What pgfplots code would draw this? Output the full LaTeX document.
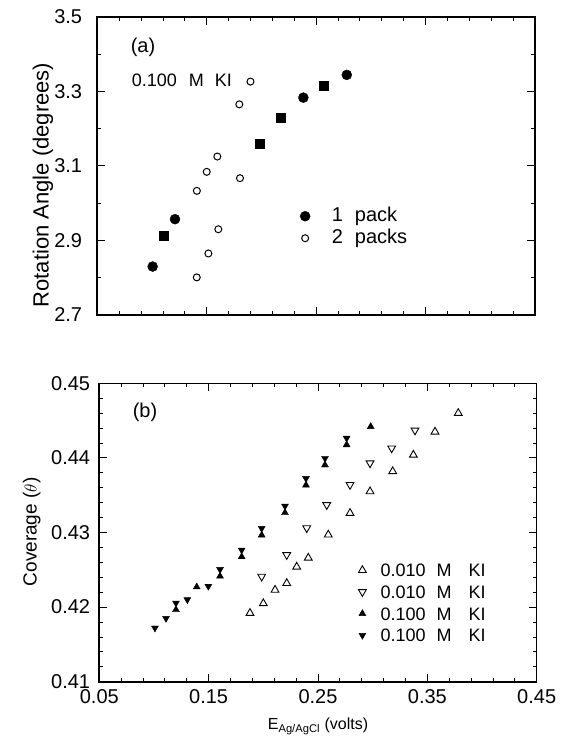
\documentclass[border=0pt]{standalone}
\usepackage{fontspec}
\setmainfont{Liberation Sans}
\usepackage{pgfplots}
\pgfplotsset{compat=1.18}
\newcommand{\tl}{\fontsize{20}{24}\selectfont}
\begin{document}
\begin{tikzpicture}[x=1pt,y=1pt]
\path[use as bounding box] (0,0) rectangle (568,-748);
\pgfplotsset{
  every axis/.append style={
    scale only axis,
    xmin=0.05, xmax=0.45,
    xtick={0.05,0.15,0.25,0.35,0.45},
    minor x tick num=4,
    tick align=inside,
    major tick length=8pt,
    minor tick length=4pt,
    every tick/.style={black, line width=0.9pt},
    axis line style={line width=1.6pt},
    tick label style={font=\tl},
    /pgf/number format/assume math mode=true,
    clip=false,
  },
  mylegimg/.style={legend image code/.code={\draw[mark repeat=2,mark phase=2,##1] plot coordinates {(0pt,0pt) (5pt,0pt) (10pt,0pt)};}},
}
% ---------------- (a) ----------------
\begin{axis}[
  at={(97.3pt,-315pt)}, anchor=south west,
  width=437.7pt, height=298.3pt,
  ymin=2.7, ymax=3.5,
  ytick={2.7,2.9,3.1,3.3,3.5},
  minor y tick num=1,
  xticklabels={},
  yticklabel style={/pgf/number format/fixed, /pgf/number format/fixed zerofill, /pgf/number format/precision=1, inner sep=0pt, xshift=-15pt},
  ylabel={Rotation Angle (degrees)},
  ylabel style={font=\fontsize{22}{26}\selectfont, at={(axis description cs:-0.124,0.436)}, anchor=center},
  legend style={at={(rel axis cs:0.463,0.362)}, anchor=north west, draw=none, fill=none,
    inner sep=0pt, font=\fontsize{20}{24}\selectfont, column sep=21.7pt, row sep=4pt,
    cells={anchor=west}, nodes={inner sep=0pt, text height=14pt, text depth=4pt}},
]
\addplot[only marks, mark=*, mark size=5pt, black, mylegimg] coordinates {
 (0.1006,2.830) (0.121,2.957) (0.2383,3.283) (0.278,3.344)
};
\addlegendentry{1\hspace{12pt}pack}
\addplot[only marks, mark=o, mark size=3.5pt, black, line width=1pt, mylegimg] coordinates {
 (0.1409,2.801) (0.1515,2.865) (0.1606,2.930) (0.141,3.033) (0.150,3.084)
 (0.1597,3.125) (0.1804,3.067) (0.1798,3.265) (0.190,3.326)
};
\addlegendentry{2\hspace{12pt}packs}
\addplot[only marks, mark=square*, mark size=4.5pt, black, forget plot] coordinates {
 (0.111,2.912) (0.1987,3.160) (0.2176,3.230) (0.2572,3.316)
};
\node[font=\fontsize{20}{24}\selectfont, anchor=center] at (rel axis cs:0.1044,0.899) {(a)};
\node[font=\fontsize{18}{22}\selectfont, anchor=west, inner sep=0pt] at (rel axis cs:0.0786,0.788) {0.100\hspace{12pt}M\hspace{11pt}KI};
\end{axis}
% ---------------- (b) ----------------
\begin{axis}[
  at={(99.3pt,-681.7pt)}, anchor=south west,
  width=437.4pt, height=298.4pt,
  ymin=0.41, ymax=0.45,
  ytick={0.41,0.42,0.43,0.44,0.45},
  minor y tick num=4,
  xticklabel style={/pgf/number format/fixed, /pgf/number format/fixed zerofill, /pgf/number format/precision=2, yshift=-4pt},
  yticklabel style={/pgf/number format/fixed, /pgf/number format/fixed zerofill, /pgf/number format/precision=2, inner sep=0pt, xshift=-9pt},
  xlabel={E\textsubscript{Ag/AgCl} (volts)},
  xlabel style={font=\fontsize{16}{19}\selectfont, at={(axis description cs:0.5,0)}, anchor=north, yshift=-33pt},
  ylabel={Coverage ($\theta$)},
  ylabel style={font=\fontsize{19}{23}\selectfont, at={(axis description cs:-0.1545,0.502)}, anchor=center},
  legend style={at={(rel axis cs:0.5921,0.3961)}, anchor=north west, draw=none, fill=none,
    inner sep=0pt, font=\fontsize{18}{22}\selectfont, column sep=14.4pt, row sep=8.7pt,
    cells={anchor=west}, nodes={inner sep=0pt, text height=13pt, text depth=0pt}},
]
\addplot[only marks, mark=triangle, mark size=4.5pt, black, line width=0.9pt, mylegimg] coordinates {
 (0.1878,0.4192) (0.2,0.4205) (0.2107,0.4223) (0.2214,0.4232) (0.2305,0.4254)
 (0.2411,0.4266) (0.2594,0.4297) (0.2793,0.4326) (0.2976,0.4355) (0.3183,0.4382)
 (0.3372,0.4404) (0.357,0.4435) (0.3783,0.4460)
};
\addlegendentry{0.010\hspace{11pt}M\hspace{17pt}KI}
\addplot[only marks, mark=triangle, mark size=4.5pt, black, line width=0.9pt, mark options={rotate=180}, mylegimg] coordinates {
 (0.1985,0.4241) (0.2214,0.4270) (0.2397,0.4306) (0.258,0.4337) (0.2793,0.4364)
 (0.2976,0.4393) (0.3174,0.4413) (0.3387,0.4437)
};
\addlegendentry{0.010\hspace{11pt}M\hspace{17pt}KI}
\addplot[only marks, mark=triangle*, mark size=4pt, black, mylegimg] coordinates {
 (0.1201,0.41965) (0.1391,0.4227) (0.1604,0.42415) (0.1802,0.42675) (0.1985,0.42965)
 (0.2198,0.43265) (0.239,0.43635) (0.2564,0.43905) (0.2762,0.44175) (0.2982,0.4442)
};
\addlegendentry{0.100\hspace{11pt}M\hspace{17pt}KI}
\addplot[only marks, mark=triangle*, mark size=4pt, black, mark options={rotate=180}, mylegimg] coordinates {
 (0.1009,0.4172) (0.111,0.4185) (0.1201,0.42055) (0.1305,0.4210) (0.1497,0.4228)
 (0.1604,0.42505) (0.1802,0.42765) (0.1985,0.43055) (0.2198,0.43355) (0.239,0.43725)
 (0.2564,0.43995) (0.2762,0.44265)
};
\addlegendentry{0.100\hspace{11pt}M\hspace{17pt}KI}
\node[font=\fontsize{20}{24}\selectfont, anchor=center] at (rel axis cs:0.1045,0.904) {(b)};
\end{axis}
\end{tikzpicture}
\end{document}
